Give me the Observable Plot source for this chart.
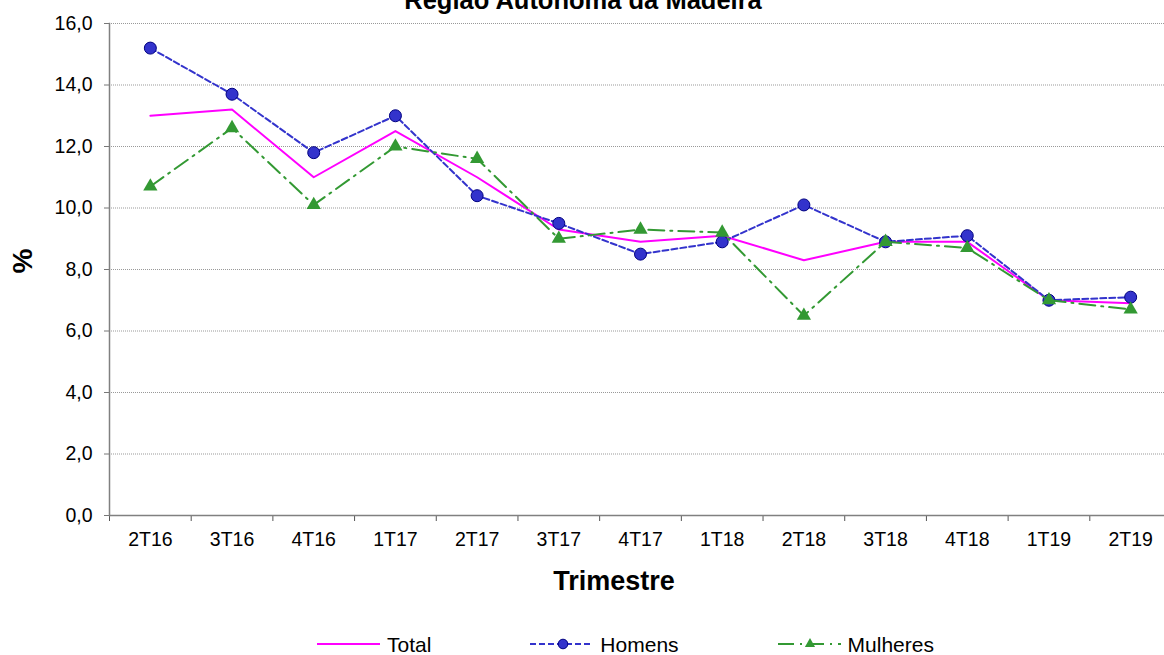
<!DOCTYPE html>
<html><head><meta charset="utf-8">
<script src="https://cdn.jsdelivr.net/npm/d3@7"></script>
<script src="https://cdn.jsdelivr.net/npm/@observablehq/plot@0.6"></script>
<style>
html,body{margin:0;padding:0;background:#fff;overflow:hidden;width:1164px;height:655px;}
#wrap{position:relative;width:1164px;height:655px;overflow:hidden;font-family:"Liberation Sans",Arial,sans-serif;color:#000;}
#chart{position:absolute;left:0;top:0;width:1175px;}
#chart svg{max-width:none !important;}
.lbl{position:absolute;white-space:nowrap;line-height:1;}
#title{font-size:25.5px;font-weight:bold;left:583px;top:-11.6px;transform:translateX(-50%);}
#xlab{font-size:27px;font-weight:bold;left:614px;top:568px;transform:translateX(-50%);}
#ylab{font-size:28px;font-weight:bold;left:23px;top:261px;transform:translate(-50%,-50%) rotate(-90deg);}
#legend{position:absolute;left:317px;top:633px;display:flex;gap:99px;align-items:center;font-size:21px;line-height:1;}
.item{display:flex;align-items:center;gap:7px;}
.item svg{display:block;}
</style></head><body>
<div id="wrap">
  <div id="chart"></div>
  <div class="lbl" id="title">Região Autónoma da Madeira</div>
  <div class="lbl" id="xlab">Trimestre</div>
  <div class="lbl" id="ylab">%</div>
  <div id="legend"></div>
</div>
<script>
const categories = ["2T16","3T16","4T16","1T17","2T17","3T17","4T17","1T18","2T18","3T18","4T18","1T19","2T19"];
const total    = [13.0,13.2,11.0,12.5,11.0,9.3,8.9,9.1,8.3,8.9,8.9,7.0,6.9];
const homens   = [15.2,13.7,11.8,13.0,10.4,9.5,8.5,8.9,10.1,8.9,9.1,7.0,7.1];
const mulheres = [10.7,12.6,10.1,12.0,11.6,9.0,9.3,9.2,6.5,8.9,8.7,7.0,6.7];
const yTicks   = [0,2,4,6,8,10,12,14,16];
const seriesNames = ["Total","Homens","Mulheres"];

const rows = vals => categories.map((c,i)=>({cat:c, v:vals[i]}));
const totalRows = rows(total), homensRows = rows(homens), mulheresRows = rows(mulheres);

const W = 1175, H = 600, ML = 109, MR = 4, MT = 23, MB = H - 515;
const bw = (W - ML - MR) / categories.length;
const fmt = d => d.toFixed(1).replace(".", ",");

const C_TOTAL = "#FF00FF", C_HOM = "#3333CC", C_HOM_EDGE = "#000080", C_MUL = "#339933";
const DASH_HOM = "6,3", DASH_MUL = "16,6,2,6";

const plot = Plot.plot({
  width: W, height: H,
  marginLeft: ML, marginRight: MR, marginTop: MT, marginBottom: MB,
  style: {fontFamily: "'Liberation Sans', Arial, sans-serif", fontSize: "19.5px", color: "#000", background: "#fff", maxWidth: "none"},
  x: {type: "band", domain: categories, padding: 0, round: false},
  y: {domain: [0, 16]},
  marks: [
    Plot.gridY(yTicks.filter(d => d > 0), {stroke: "#999", strokeOpacity: 1, strokeDasharray: "1,1"}),
    Plot.axisY(yTicks, {tickSize: 5, tickPadding: 12, tickFormat: fmt, stroke: "#777", label: null}),
    Plot.axisX({tickSize: 0, tickPadding: 17, label: null}),
    Plot.axisX({tickSize: 6, tickFormat: () => "", dx: -bw / 2, label: null, stroke: "#555"}),
    Plot.ruleY([0], {stroke: "#808080", strokeWidth: 1.5}),
    Plot.frame({anchor: "left", stroke: "#808080", strokeWidth: 1.5}),
    Plot.line(totalRows, {x: "cat", y: "v", stroke: C_TOTAL, strokeWidth: 2}),
    Plot.line(homensRows, {x: "cat", y: "v", stroke: C_HOM, strokeWidth: 2, strokeDasharray: DASH_HOM}),
    Plot.dot(homensRows, {x: "cat", y: "v", r: 6, fill: C_HOM, stroke: C_HOM_EDGE, strokeWidth: 1}),
    Plot.line(mulheresRows, {x: "cat", y: "v", stroke: C_MUL, strokeWidth: 2, strokeDasharray: DASH_MUL}),
    Plot.dot(mulheresRows, {x: "cat", y: "v", symbol: "triangle", r: 5.3, fill: C_MUL, stroke: "none"})
  ]
});
document.getElementById("chart").appendChild(plot);

// legend
const legend = d3.select("#legend");
const specs = [
  {name: seriesNames[0], color: C_TOTAL, dash: null, marker: null},
  {name: seriesNames[1], color: C_HOM, dash: DASH_HOM, marker: "circle"},
  {name: seriesNames[2], color: C_MUL, dash: DASH_MUL, marker: "triangle"}
];
for (const s of specs) {
  const item = legend.append("div").attr("class", "item");
  const svg = item.append("svg").attr("width", 63).attr("height", 22);
  svg.append("line").attr("x1", 0).attr("x2", 63).attr("y1", 11).attr("y2", 11)
    .attr("stroke", s.color).attr("stroke-width", 2)
    .attr("stroke-dasharray", s.dash);
  if (s.marker === "circle") {
    svg.append("circle").attr("cx", 33).attr("cy", 11).attr("r", 4.8)
      .attr("fill", C_HOM).attr("stroke", C_HOM_EDGE).attr("stroke-width", 1);
  } else if (s.marker === "triangle") {
    svg.append("path").attr("transform", "translate(32,11)")
      .attr("d", d3.symbol(d3.symbolTriangle, 45)()).attr("fill", C_MUL);
  }
  item.append("span").text(s.name);
}
</script>
</body></html>
